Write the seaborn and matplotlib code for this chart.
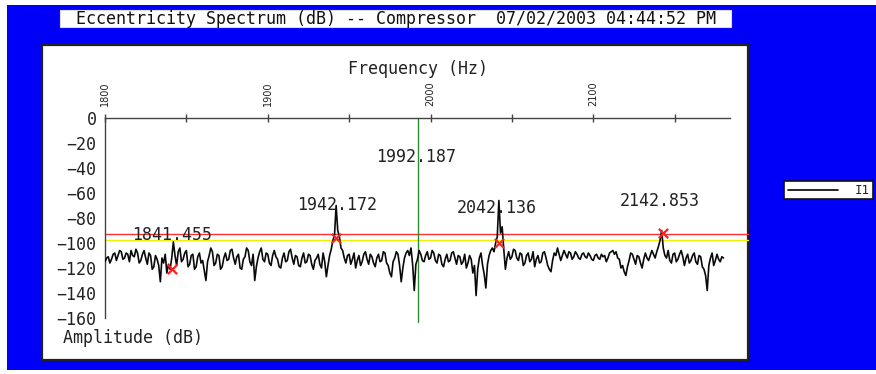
import numpy as np
import pandas as pd
import matplotlib
matplotlib.use("Agg")
import matplotlib.pyplot as plt
from matplotlib.patches import Rectangle
from matplotlib.lines import Line2D
from matplotlib.ticker import MultipleLocator, FixedLocator
import seaborn as sns

# ---------------- data ----------------
title_text = "Eccentricity Spectrum (dB) -- Compressor  07/02/2003 04:44:52 PM"
freq_start = 1800
freq_step = 1
amplitude_db = [
    -115, -112, -111, -116, -113, -109, -108, -114, -110, -106,
    -107, -113, -112, -108, -109, -115, -106, -110, -111, -105,
    -108, -116, -114, -109, -106, -112, -117, -108, -110, -121,
    -119, -110, -113, -118, -131, -112, -116, -109, -124, -117,
    -121, -112, -99, -110, -118, -107, -104, -115, -113, -108,
    -106, -119, -117, -110, -109, -121, -119, -111, -108, -116,
    -114, -122, -130, -115, -110, -104, -107, -118, -116, -109,
    -110, -121, -119, -112, -108, -114, -113, -106, -105, -112,
    -117, -111, -109, -120, -121, -113, -111, -104, -106, -115,
    -118, -109, -130, -119, -112, -107, -104, -113, -115, -108,
    -109, -116, -118, -110, -106, -111, -113, -119, -120, -112,
    -108, -115, -114, -107, -105, -112, -117, -110, -111, -118,
    -119, -112, -108, -116, -115, -109, -110, -117, -121, -114,
    -112, -109, -117, -120, -108, -115, -127, -118, -110, -105,
    -98, -94, -70, -90, -95, -104, -106, -112, -116, -110,
    -109, -117, -113, -108, -120, -114, -110, -118, -115, -109,
    -107, -113, -117, -109, -111, -116, -119, -112, -109, -115,
    -114, -107, -108, -116, -118, -124, -127, -115, -112, -107,
    -109, -118, -131, -120, -112, -108, -106, -110, -104, -117,
    -138, -117, -113, -106, -109, -114, -115, -110, -107, -113,
    -112, -106, -108, -114, -116, -109, -110, -117, -119, -113,
    -109, -115, -114, -108, -107, -112, -117, -110, -111, -117,
    -115, -109, -120, -116, -110, -113, -124, -118, -142, -121,
    -112, -108, -118, -125, -136, -117, -110, -106, -104, -107,
    -100, -95, -66, -92, -87, -105, -121, -112, -107, -113,
    -111, -105, -106, -112, -114, -108, -109, -118, -116, -110,
    -108, -115, -113, -107, -119, -113, -110, -116, -115, -108,
    -107, -112, -118, -121, -123, -114, -108, -110, -104, -109,
    -114, -110, -106, -109, -112, -107, -108, -113, -111, -107,
    -109, -112, -113, -109, -108, -111, -112, -108, -110, -113,
    -114, -110, -109, -112, -113, -109, -111, -110, -115, -112,
    -108, -107, -106, -109, -107, -112, -113, -120, -118, -123,
    -126, -119, -114, -108, -109, -113, -117, -110, -111, -116,
    -120, -113, -108, -112, -114, -110, -106, -109, -112, -107,
    -103, -98, -90, -104, -110, -112, -106, -114, -116, -109,
    -108, -115, -113, -109, -106, -111, -118, -112, -109, -116,
    -114, -110, -108, -115, -117, -110, -111, -119, -121, -126,
    -138, -118, -112, -108, -118, -114, -109, -113, -115, -111,
    -112,
]
frequency_hz = [freq_start + freq_step * i for i in range(len(amplitude_db))]

marker_freq = [1841, 1942, 2042, 2143]
marker_db = [-121, -96, -100, -92]

peak_labels = ["1841.455", "1942.172", "1992.187", "2042.136", "2142.853"]
label_freq = [1841, 1942.5, 1991, 2040.7, 2140.8]
label_db = [-94, -70, -31, -72, -66]

cursor_freq = 1992.187
red_level = -92.8
yellow_level = -97.6

x_major_ticks = [1800, 1900, 2000, 2100]
x_minor_ticks = [1850, 1950, 2050, 2150]
y_tick_vals = [0, -20, -40, -60, -80, -100, -120, -140, -160]

legend_label = "I1"

# ---------------- figure ----------------
sns.set_style("white")
plt.rcParams["font.family"] = ["DejaVu Sans Mono", "DejaVu Sans"]
plt.rcParams["axes.unicode_minus"] = True

W, H = 876, 374
fig = plt.figure(figsize=(W / 100, H / 100), dpi=100)
fig.patch.set_facecolor("white")

FS = 12


def fx(x):
    return x / W


def fy(y):
    return 1 - y / H


def rect(x0, y0, x1, y1, **kw):
    r = Rectangle((fx(x0), fy(y1)), fx(x1) - fx(x0), fy(y0) - fy(y1),
                  transform=fig.transFigure, **kw)
    fig.add_artist(r)
    return r


# blue background
rect(7, 5, 876, 370, facecolor="#0000F8", edgecolor="none", zorder=0)
# title box
rect(60, 10, 731, 27, facecolor="white", edgecolor="#dddddd", lw=0.8, zorder=1)
fig.text(fx(396), fy(18.5), title_text, ha="center", va="center",
         fontsize=FS, color="#111111", zorder=2)
# white panel
rect(42, 45, 748, 360, facecolor="white", edgecolor="#222222", lw=1.6, zorder=1)
# legend box
rect(784, 181, 873, 199, facecolor="white", edgecolor="#111111", lw=1.2, zorder=1)
fig.add_artist(Line2D([fx(788), fx(838)], [fy(190), fy(190)], color="black",
                      lw=1.2, transform=fig.transFigure, zorder=2))
fig.text(fx(862), fy(190), legend_label, ha="center", va="center",
         fontsize=9, color="#222222", zorder=2)

# axes
ax_left, ax_right = 105, 730
ax_top, ax_bottom = 118, 318
ax = fig.add_axes([fx(ax_left), fy(ax_bottom), fx(ax_right) - fx(ax_left),
                   fy(ax_top) - fy(ax_bottom)], zorder=3)
ax.patch.set_alpha(0)

df = pd.DataFrame({"Frequency": frequency_hz, "Amplitude": amplitude_db})
sns.lineplot(data=df, x="Frequency", y="Amplitude", ax=ax, color="#0a0a0a",
             lw=1.2, zorder=3)

xmin, xmax = 1800, 2184
ax.set_xlim(xmin, xmax)
ax.set_ylim(-160, 0)
px_per_hz = (ax_right - ax_left) / (xmax - xmin)
x_edge = xmin + (748 - ax_left) / px_per_hz

ax.plot([xmin, x_edge], [red_level, red_level], color="#ff3030", lw=1.0,
        clip_on=False, zorder=2)
ax.plot([xmin, x_edge], [yellow_level, yellow_level], color="#f0f000", lw=1.0,
        clip_on=False, zorder=2)
ax.plot([cursor_freq, cursor_freq], [0, -163.5], color="#2e8b2e", lw=1.0,
        clip_on=False, zorder=2)

ax.scatter(marker_freq, marker_db, marker="x", s=45, color="#ff2020",
           linewidths=1.6, zorder=4)

for t, xv, yv in zip(peak_labels, label_freq, label_db):
    ax.text(xv, yv, t, ha="center", va="center", fontsize=FS,
            color="#222222", zorder=5)

# spines
for s in ["right", "bottom"]:
    ax.spines[s].set_visible(False)
for s in ["left", "top"]:
    ax.spines[s].set_color("#444444")
    ax.spines[s].set_linewidth(1.0)

ax.xaxis.tick_top()
ax.xaxis.set_major_locator(FixedLocator(x_major_ticks + x_minor_ticks))
ax.set_xticklabels([str(v) for v in x_major_ticks] + [""] * len(x_minor_ticks),
                   rotation=90, fontsize=7, family="DejaVu Sans")
ax.yaxis.set_major_locator(FixedLocator(y_tick_vals))
ax.yaxis.set_minor_locator(MultipleLocator(10))
ax.set_yticklabels([("\u2212" + str(-v)) if v < 0 else str(v) for v in y_tick_vals],
                   fontsize=FS)
ax.tick_params(axis="both", which="both", direction="inout", length=6,
               width=1.0, color="#444444", labelcolor="#222222")
ax.tick_params(axis="x", pad=6)
ax.tick_params(axis="y", pad=3)
ax.set_xlabel("")
ax.set_ylabel("")
ax.grid(False)

fig.text(fx(418), fy(69), "Frequency (Hz)", ha="center", va="center",
         fontsize=FS, color="#222222", zorder=5)
fig.text(fx(63), fy(338), "Amplitude (dB)", ha="left", va="center",
         fontsize=FS, color="#222222", zorder=5)

fig.savefig("out.png", dpi=100, facecolor=fig.get_facecolor())
